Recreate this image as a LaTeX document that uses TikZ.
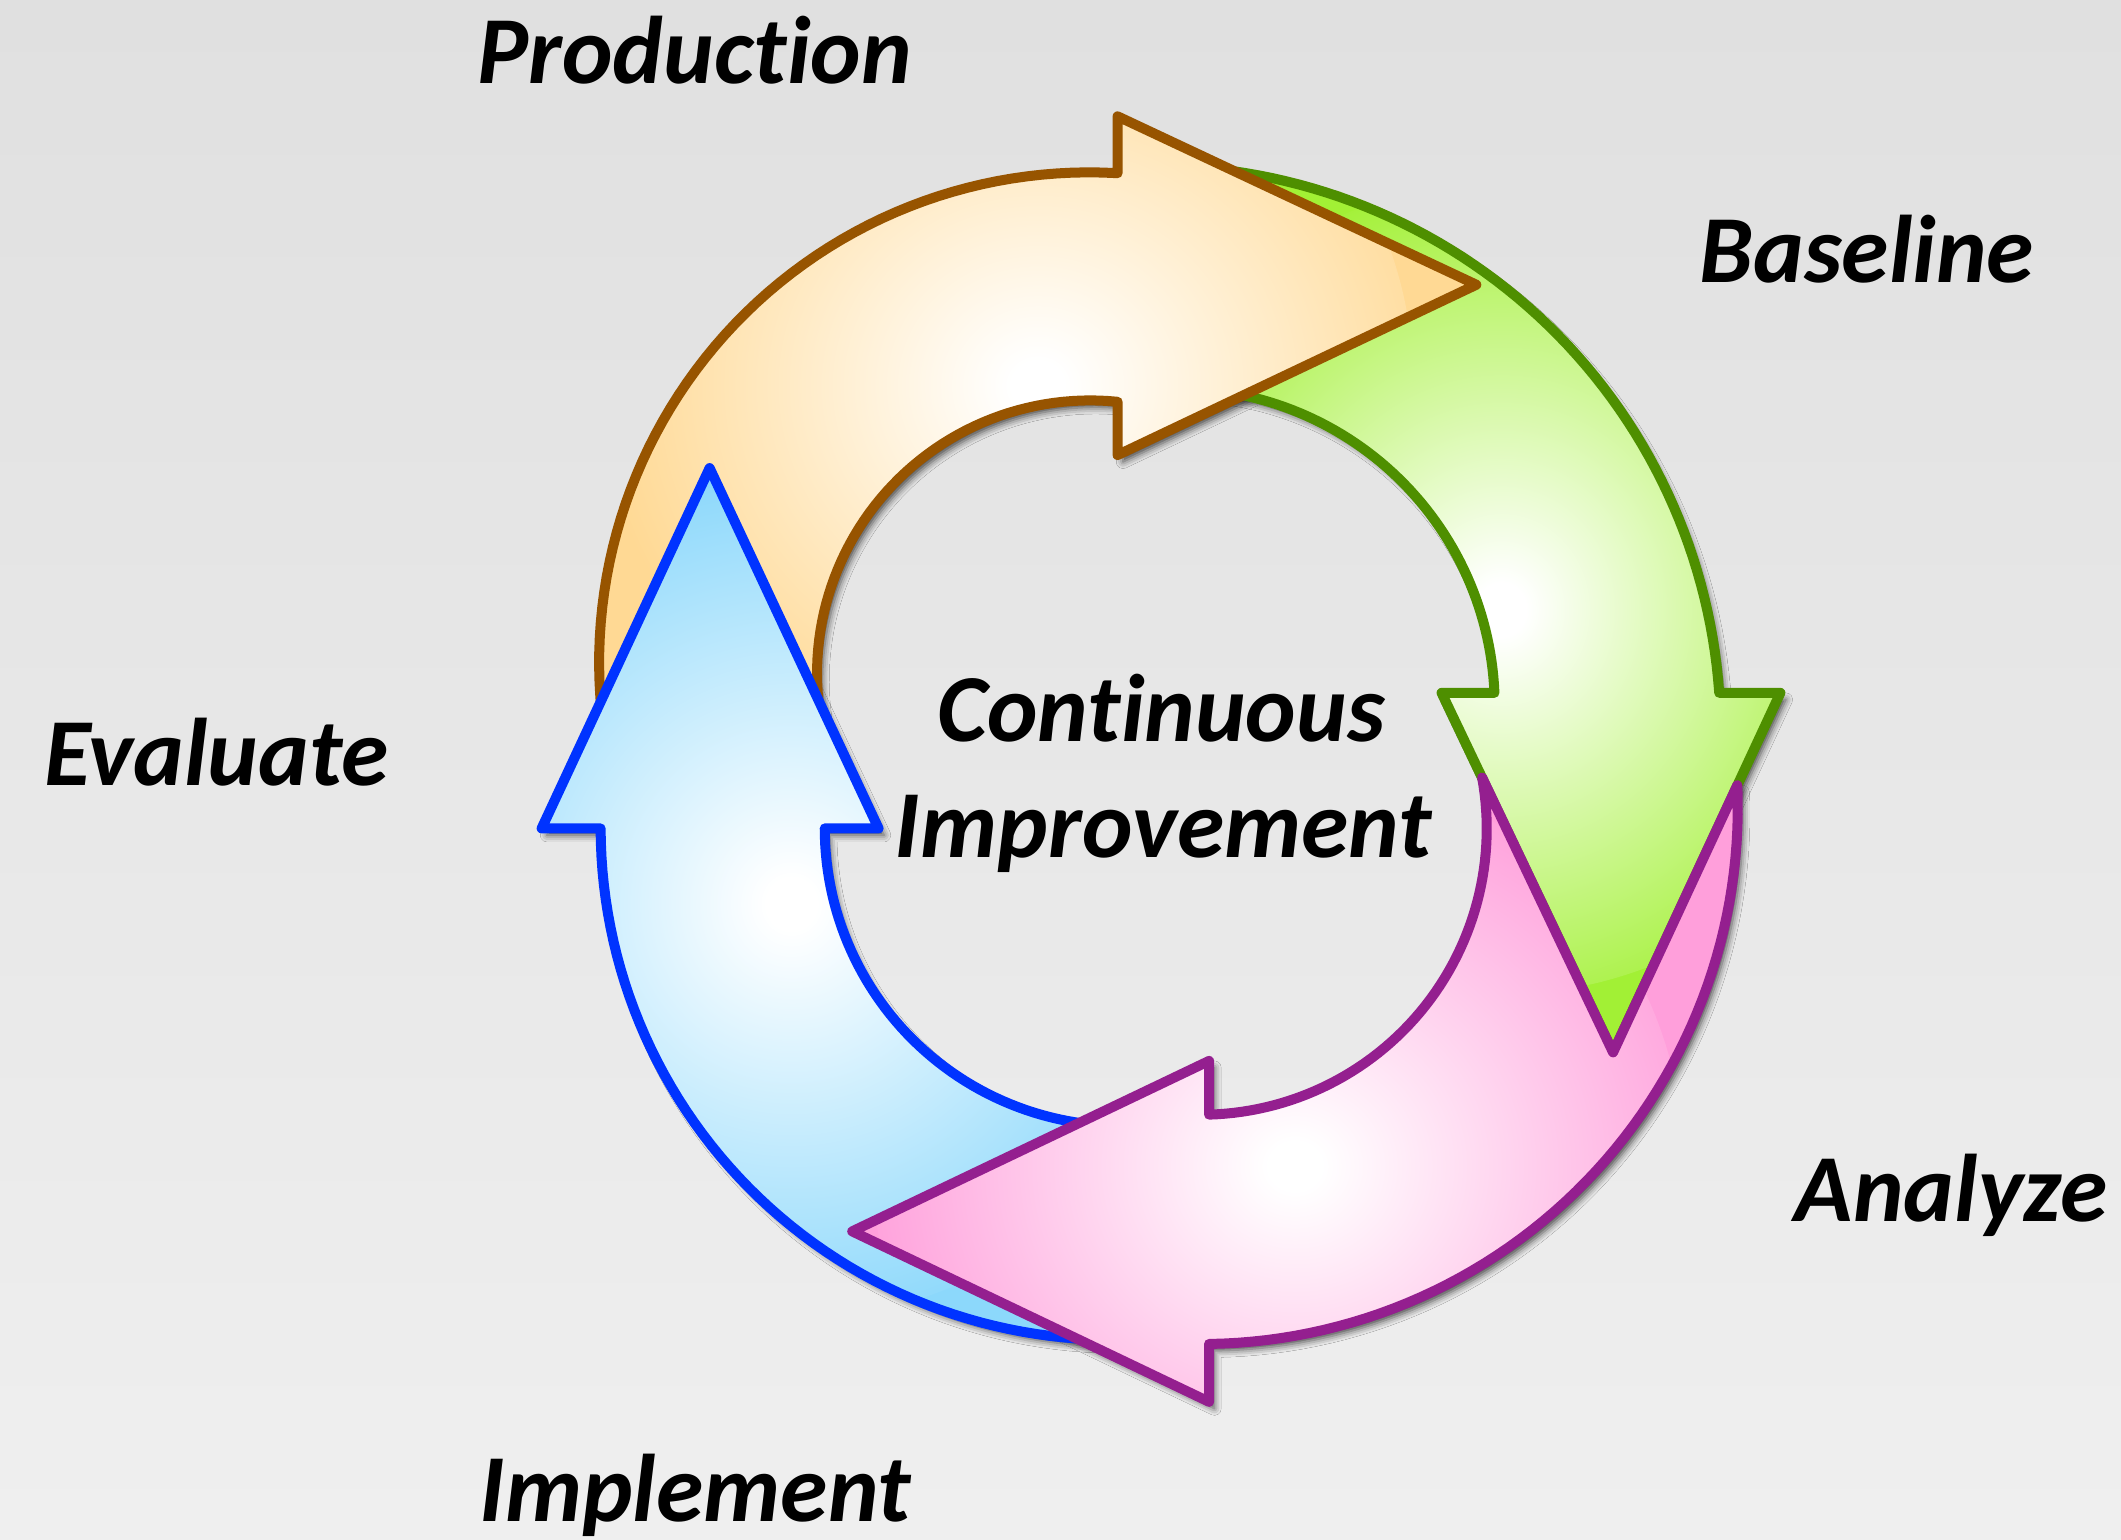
\documentclass[tikz,border=0pt]{standalone}
\usepackage{fontspec}
\newfontfamily\lblfont{Carlito}[Ligatures=NoCommon]
\usetikzlibrary{shadows.blur}

\definecolor{bgtop}{HTML}{E0E0E0}
\definecolor{bgbot}{HTML}{EFEFEF}
\definecolor{orline}{HTML}{975400}
\definecolor{oredge}{HTML}{FFD994}
\definecolor{grline}{HTML}{4E8F00}
\definecolor{gredge}{HTML}{A2F035}
\definecolor{pkline}{HTML}{941F8F}
\definecolor{pkedge}{HTML}{FF9FDB}
\definecolor{blline}{HTML}{0033FF}
\definecolor{bledge}{HTML}{8CD8FB}

% soft white glow in the middle of each arrow body (25bp = radius of the shaded circle)
\pgfdeclareradialshading{orglow}{\pgfpoint{0bp}{0bp}}{color(0bp)=(white); color(1.5bp)=(white); color(25bp)=(oredge); color(50bp)=(oredge)}
\pgfdeclareradialshading{grglow}{\pgfpoint{0bp}{0bp}}{color(0bp)=(white); color(1.5bp)=(white); color(25bp)=(gredge); color(50bp)=(gredge)}
\pgfdeclareradialshading{pkglow}{\pgfpoint{0bp}{0bp}}{color(0bp)=(white); color(1.5bp)=(white); color(25bp)=(pkedge); color(50bp)=(pkedge)}
\pgfdeclareradialshading{blglow}{\pgfpoint{0bp}{0bp}}{color(0bp)=(white); color(1.5bp)=(white); color(25bp)=(bledge); color(50bp)=(bledge)}

% outlines of the four curved arrows (y grows downwards)
\def\orangepath{plot[domain=168.83:273.31] ({805.3+362.4*cos(\t)},{489.8+362.4*sin(\t)})
  -- (826.2,86) -- (1091.4,210.5) -- (826.2,336.4)
  -- plot[domain=275.74:162.13] ({806+202*cos(\t)},{498+202*sin(\t)}) -- cycle}
\def\greenpath{plot[domain=273.71:356.0] ({853+419*cos(\t)},{541.4+419*sin(\t)})
  -- (1316.2,512.2) -- (1192.5,778) -- (1065.7,512.2)
  -- plot[domain=357.61:272.44] ({870+235*cos(\t)},{522+235*sin(\t)}) -- cycle}
\def\pinkpath{(1192.5,778) -- plot[domain=-2.4:89.19] ({888.2+396.5*cos(\t)},{597.1+396.5*sin(\t)})
  -- (893.8,1036.3) -- (630,910.3) -- (893.8,784.3)
  -- plot[domain=88.32:-10.3] ({887.6+211.5*cos(\t)},{612.6+211.5*sin(\t)}) -- cycle}
\def\bluepath{plot[domain=85.91:179.86] ({823+379*cos(\t)},{611.5+379*sin(\t)})
  -- (400.4,612.4) -- (524.6,346) -- (649.5,612.4)
  -- plot[domain=179.95:84.79] ({830+220.3*cos(\t)},{612.2+220.3*sin(\t)}) -- cycle}

\begin{document}
\begin{tikzpicture}[x=1pt, y=-1pt,
  variable=\t, samples=60,
  arrowshape/.style={line width=7.4pt, line join=round},
  dropshadow/.style={blur shadow={shadow xshift=4pt, shadow yshift=-5pt, shadow blur radius=5pt, shadow opacity=70}},
  tagtext/.style={font=\lblfont\bfseries\itshape\fontsize{71}{78}\selectfont, anchor=base, inner sep=0pt, text=black}]

  % background
  \shade[top color=bgtop, bottom color=bgbot] (0,0) rectangle (1568,1138);
  \useasboundingbox (0,0) rectangle (1568,1138);

  % shadows under all arrows
  \path[dropshadow] \greenpath;
  \path[dropshadow] \orangepath;
  \path[dropshadow] \bluepath;
  \path[dropshadow] \pinkpath;

  % arrows
  \draw[arrowshape, draw=grline, fill=gredge,
    path picture={\shade[shading=grglow] (1110,435) circle[radius=300pt];}] \greenpath;
  \draw[arrowshape, draw=orline, fill=oredge,
    path picture={\shade[shading=orglow] (745,285) circle[radius=300pt];}] \orangepath;
  \draw[arrowshape, draw=blline, fill=bledge,
    path picture={\shade[shading=blglow] (585,665) circle[radius=310pt];}] \bluepath;
  \draw[arrowshape, draw=pkline, fill=pkedge,
    path picture={\shade[shading=pkglow] (945,862) circle[radius=300pt];}] \pinkpath;

  % labels
  \node[tagtext] (production) at (513.5,62) {Production};
  \node[tagtext] (baseline) at (1380,209) {Baseline};
  \node[tagtext] (evaluate) at (160,581) {Evaluate};
  \node[tagtext] (analyze) at (1442.5,903) {Analyze};
  \node[tagtext] (implement) at (514,1125) {Implement};
  \node[tagtext] (continuous) at (858.5,548) {Continuous};
  \node[tagtext] (improvement) at (860,634) {Improvement};
\end{tikzpicture}
\end{document}
